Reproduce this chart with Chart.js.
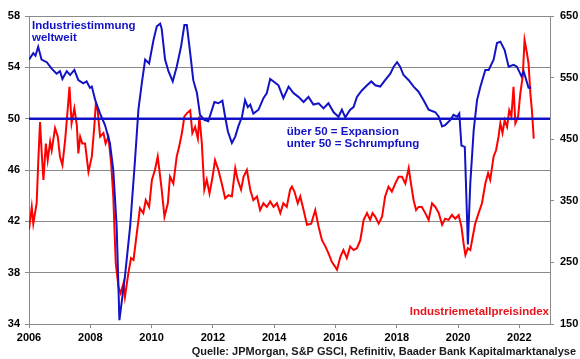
<!DOCTYPE html>
<html>
<head>
<meta charset="utf-8">
<script src="https://cdn.jsdelivr.net/npm/chart.js@4.4.1/dist/chart.umd.min.js"></script>
<style>
html,body{margin:0;padding:0;background:#fff;}
#wrap{width:580px;height:359px;}
</style>
</head>
<body>
<div id="wrap"><canvas id="c" width="580" height="359"></canvas></div>
<script>
// X axis tick labels (years)
const xTickYears = [2006, 2008, 2010, 2012, 2014, 2016, 2018, 2020, 2022];

// Industriestimmung weltweit (global manufacturing PMI), left axis
const pmiDates = [2006.00,2006.14,2006.21,2006.30,2006.41,2006.58,2006.74,2006.90,2007.01,2007.09,2007.23,2007.34,2007.48,2007.61,2007.77,2007.88,2007.99,2008.05,2008.16,2008.32,2008.48,2008.64,2008.75,2008.86,2008.95,2009.13,2009.30,2009.46,2009.57,2009.68,2009.79,2009.92,2010.06,2010.17,2010.28,2010.33,2010.44,2010.55,2010.69,2010.82,2010.96,2011.07,2011.15,2011.26,2011.36,2011.48,2011.58,2011.72,2011.85,2011.97,2012.05,2012.18,2012.31,2012.40,2012.49,2012.62,2012.73,2012.83,2012.95,2013.05,2013.14,2013.22,2013.32,2013.49,2013.65,2013.76,2013.87,2013.98,2014.14,2014.30,2014.47,2014.63,2014.79,2014.96,2015.12,2015.28,2015.45,2015.61,2015.77,2015.94,2016.10,2016.21,2016.32,2016.48,2016.59,2016.70,2016.86,2017.03,2017.17,2017.30,2017.46,2017.62,2017.79,2017.90,2018.01,2018.11,2018.22,2018.39,2018.55,2018.71,2018.87,2019.04,2019.26,2019.37,2019.48,2019.58,2019.75,2019.85,2019.97,2020.04,2020.11,2020.22,2020.32,2020.40,2020.51,2020.62,2020.73,2020.89,2021.00,2021.16,2021.27,2021.38,2021.52,2021.65,2021.81,2021.92,2022.07,2022.14,2022.30,2022.39];
const pmiValues = [54.6,55.1,54.9,55.6,54.6,54.4,53.9,53.5,53.7,53.1,53.7,53.4,53.8,53.0,52.75,52.9,52.4,52.5,51.45,50.4,49.5,48.1,46.0,41.6,34.3,37.7,41.6,46.8,50.7,52.75,54.6,54.3,56.1,57.2,57.4,57.0,54.6,53.7,52.9,54.05,55.6,57.3,57.3,55.1,53.0,52.0,50.3,49.9,49.8,50.7,51.3,51.2,51.4,50.15,49.0,48.1,48.6,49.4,50.15,51.45,50.9,51.1,50.4,50.7,51.6,52.0,53.1,52.9,52.6,51.6,52.5,52.0,51.7,51.3,51.7,51.1,51.2,50.8,51.2,50.5,50.15,50.7,50.1,50.7,50.9,51.7,52.2,52.6,52.9,52.6,52.5,53.0,53.5,54.05,54.4,54.05,53.4,53.0,52.5,52.1,51.45,50.7,50.5,50.15,49.4,49.5,49.9,50.3,50.15,50.4,47.9,47.8,40.2,45.0,49.1,51.45,52.5,53.8,53.8,54.6,55.9,56.0,55.35,54.05,54.2,54.05,53.3,53.7,52.4,52.4];

// Industriemetallpreisindex (S&P GSCI industrial metals), right axis
const metalDates = [2006.00,2006.09,2006.14,2006.25,2006.30,2006.36,2006.41,2006.47,2006.55,2006.61,2006.69,2006.74,2006.85,2006.94,2007.01,2007.09,2007.18,2007.26,2007.32,2007.39,2007.48,2007.56,2007.61,2007.67,2007.74,2007.83,2007.94,2008.05,2008.13,2008.18,2008.24,2008.32,2008.43,2008.50,2008.59,2008.68,2008.75,2008.83,2008.92,2008.99,2009.08,2009.13,2009.24,2009.33,2009.41,2009.49,2009.62,2009.73,2009.81,2009.92,2010.01,2010.11,2010.20,2010.33,2010.42,2010.53,2010.60,2010.71,2010.82,2010.90,2010.99,2011.07,2011.15,2011.26,2011.33,2011.42,2011.51,2011.56,2011.64,2011.72,2011.80,2011.89,2011.99,2012.07,2012.18,2012.29,2012.40,2012.51,2012.62,2012.73,2012.81,2012.92,2013.00,2013.11,2013.22,2013.32,2013.44,2013.54,2013.65,2013.76,2013.87,2013.98,2014.09,2014.20,2014.30,2014.41,2014.52,2014.58,2014.66,2014.77,2014.85,2014.96,2015.07,2015.21,2015.34,2015.45,2015.56,2015.67,2015.77,2015.88,2015.99,2016.05,2016.16,2016.26,2016.37,2016.48,2016.59,2016.70,2016.81,2016.92,2017.03,2017.13,2017.21,2017.30,2017.41,2017.52,2017.62,2017.73,2017.84,2017.95,2018.06,2018.17,2018.28,2018.39,2018.47,2018.55,2018.63,2018.71,2018.82,2018.93,2019.04,2019.15,2019.26,2019.37,2019.48,2019.58,2019.69,2019.80,2019.91,2020.02,2020.11,2020.18,2020.24,2020.32,2020.40,2020.48,2020.56,2020.67,2020.78,2020.89,2020.98,2021.05,2021.16,2021.24,2021.32,2021.38,2021.45,2021.52,2021.60,2021.67,2021.74,2021.81,2021.87,2021.96,2022.03,2022.11,2022.17,2022.25,2022.30,2022.36,2022.41,2022.47];
const metalValues = [303,340,313,346,411,478,432,384,443,416,446,432,468,454,422,408,449,497,535,476,500,473,427,454,443,443,397,422,470,508,497,454,460,443,454,411,357,249,210,200,216,194,232,257,254,286,338,330,351,340,384,400,422,368,324,346,389,378,422,438,460,487,492,497,460,470,451,487,443,368,384,362,389,416,400,378,354,359,357,403,384,368,389,400,368,351,357,335,346,340,349,340,346,330,346,340,368,373,365,346,357,335,311,313,335,308,286,276,265,251,243,238,259,270,257,276,270,273,286,319,330,319,330,324,313,324,357,373,365,378,389,389,378,403,376,351,335,340,340,330,319,346,340,330,311,321,319,327,321,327,308,281,262,273,270,292,313,330,346,378,395,384,422,432,454,476,460,481,470,497,487,535,476,487,524,552,611,589,573,524,497,451];

// Reference line (expansion / contraction threshold)
const thresholdDates = [2006, 2023];
const thresholdValues = [50, 50];

// Axis tick ranges
const leftTicks = {min: 34, max: 58, step: 4};
const rightTicks = {min: 150, max: 650, step: 100};

const BLUE = '#1212c6';
const RED = '#ff0000';
const GRID = '#8a8a8a';
const FONT = 'Liberation Sans, Arial, sans-serif';

function pts(xs, ys){ return xs.map((x,i)=>({x:x, y:ys[i]})); }

const textPlugin = {
  id: 'texts',
  afterDraw(chart){
    const ctx = chart.ctx;
    const a = chart.chartArea;
    const xs = chart.scales.x, yl = chart.scales.y;
    ctx.save();
    ctx.textBaseline = 'alphabetic';
    ctx.fillStyle = BLUE;
    ctx.font = 'bold 11.5px ' + FONT;
    ctx.textAlign = 'left';
    ctx.fillText('Industriestimmung', a.left + 3, a.top + 13);
    ctx.fillText('weltweit', a.left + 3, a.top + 25);
    const px = xs.getPixelForValue(2014.41);
    const py = yl.getPixelForValue(50);
    ctx.fillText('über 50 = Expansion', px, py + 16);
    ctx.fillText('unter 50 = Schrumpfung', px, py + 28);
    ctx.fillStyle = '#e8141c';
    ctx.textAlign = 'right';
    ctx.fillText('Industriemetallpreisindex', a.right - 1, a.bottom - 9);
    ctx.fillStyle = '#1a1a1a';
    ctx.font = 'bold 11px ' + FONT;
    ctx.fillText('Quelle: JPMorgan, S&P GSCI, Refinitiv, Baader Bank Kapitalmarktanalyse', chart.width - 4, chart.height - 4);
    ctx.restore();
  }
};

new Chart(document.getElementById('c'), {
  type: 'line',
  data: {
    datasets: [
      {label:'Schwelle', data: pts(thresholdDates, thresholdValues), yAxisID:'y', borderColor: BLUE, borderWidth: 2.5, pointRadius:0, order: 0},
      {label:'Industriestimmung weltweit', data: pts(pmiDates, pmiValues), yAxisID:'y', borderColor: BLUE, borderWidth: 2, pointRadius:0, tension:0, order: 1},
      {label:'Industriemetallpreisindex', data: pts(metalDates, metalValues), yAxisID:'y2', borderColor: RED, borderWidth: 2, pointRadius:0, tension:0, order: 2}
    ]
  },
  options: {
    responsive: false,
    animation: false,
    devicePixelRatio: 1,
    layout: {padding: {top: 16, right: 0, bottom: 13, left: 0}},
    plugins: {legend:{display:false}, tooltip:{enabled:false}},
    scales: {
      x: {
        type: 'linear', position: 'bottom', min: 2006, max: 2023,
        afterBuildTicks: s => { s.ticks = xTickYears.map(v => ({value: v})); },
        afterFit: s => { s.height = 22; },
        grid: {drawOnChartArea: false, drawTicks: true, tickLength: 4, color: GRID},
        border: {color: GRID, width: 1},
        ticks: {color:'#000', font:{family: FONT, size: 11, weight:'bold'}, padding: 3, maxRotation: 0, callback: v => String(v)}
      },
      y: {
        position: 'left', min: leftTicks.min, max: leftTicks.max,
        afterFit: s => { s.width = 29; },
        grid: {color: GRID, lineWidth: 1, tickLength: 4},
        border: {color: GRID, width: 1},
        ticks: {stepSize: leftTicks.step, color:'#000', font:{family: FONT, size: 11, weight:'bold'}, padding: 5}
      },
      y2: {
        position: 'right', min: rightTicks.min, max: rightTicks.max,
        afterFit: s => { s.width = 30; },
        grid: {drawOnChartArea: false, color: GRID, tickLength: 4},
        border: {color: GRID, width: 1},
        ticks: {stepSize: rightTicks.step, color:'#000', font:{family: FONT, size: 11, weight:'bold'}, padding: 6}
      }
    }
  },
  plugins: [textPlugin]
});
</script>
</body>
</html>
